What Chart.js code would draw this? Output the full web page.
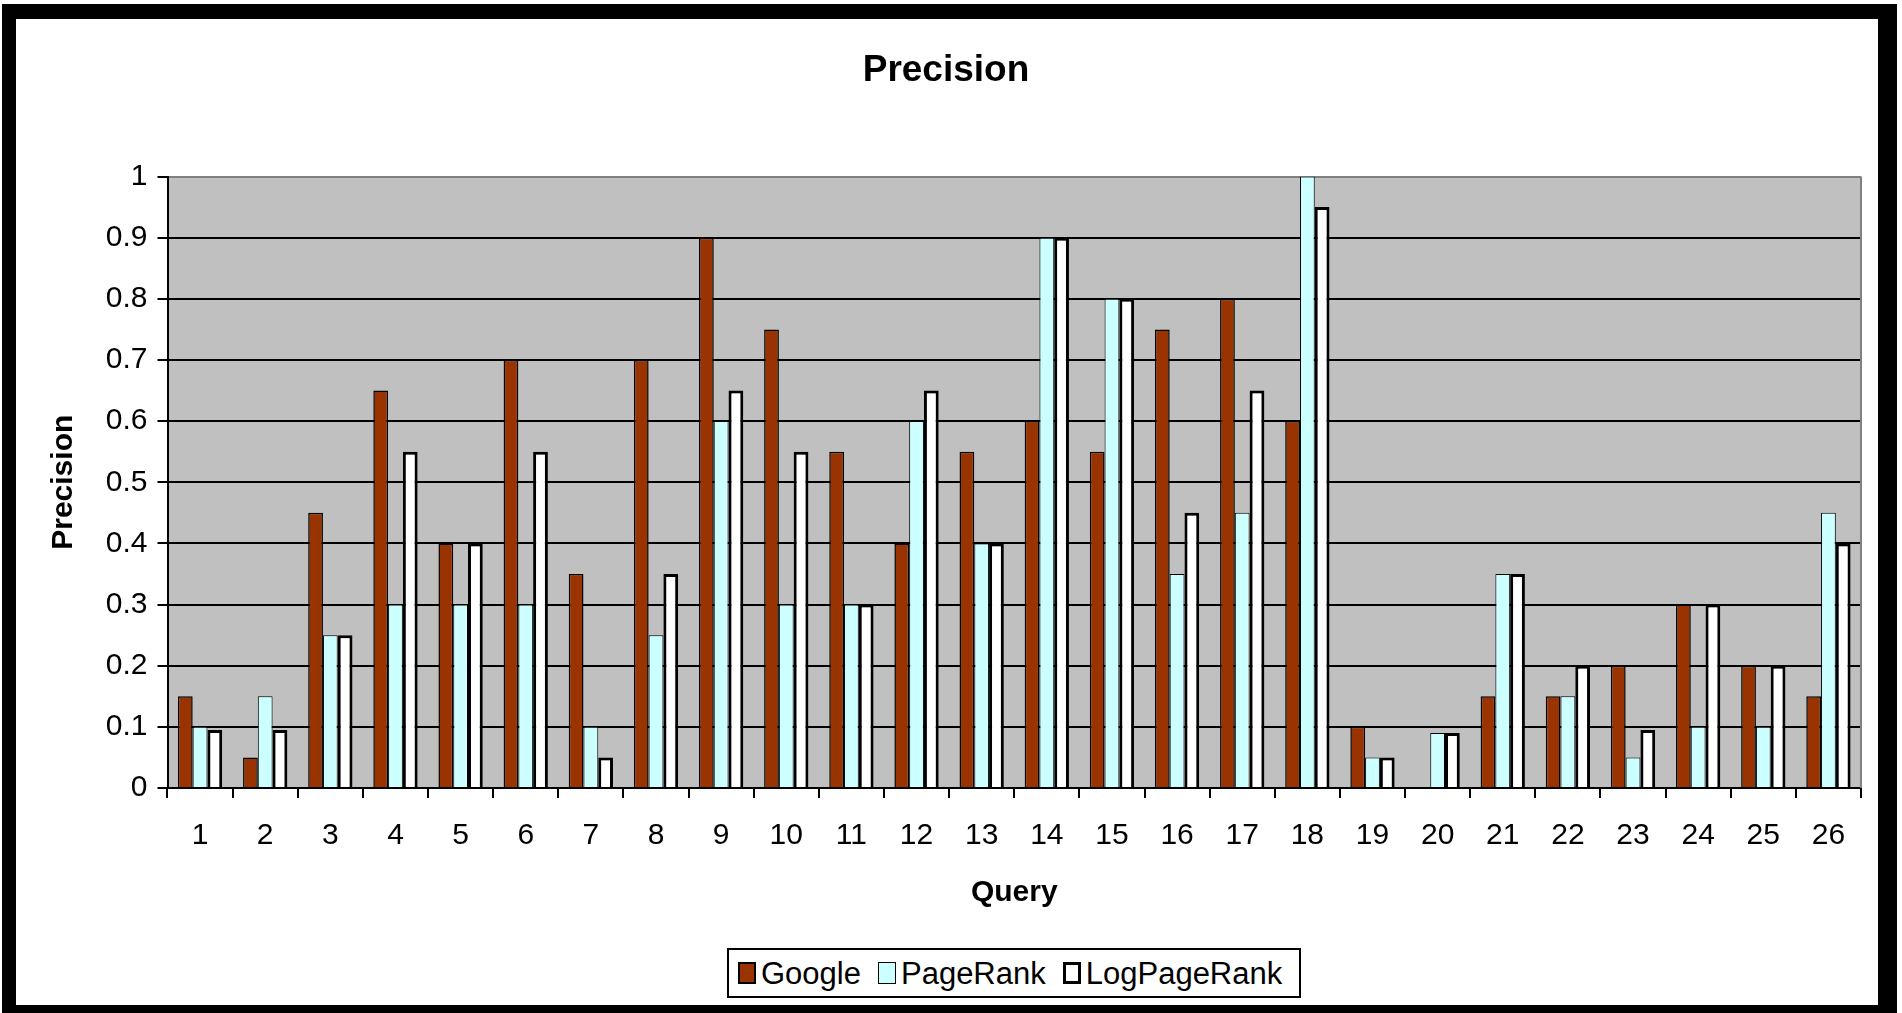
<!DOCTYPE html>
<html>
<head>
<meta charset="utf-8">
<script src="https://cdn.jsdelivr.net/npm/chart.js@4.4.1/dist/chart.umd.min.js"></script>
<style>
html, body { margin: 0; padding: 0; background: #ffffff; }
#wrap { position: relative; width: 1902px; height: 1013px; overflow: hidden; }
canvas { display: block; }
#legend {
  position: absolute; left: 727px; top: 948px; height: 50px;
  box-sizing: border-box; border: 2px solid #000; background: #fff;
  display: flex; align-items: center; padding: 0 17px 0 9px;
  font-family: 'Liberation Sans', Arial, sans-serif; font-size: 31px; color: #000;
  white-space: nowrap; line-height: 1;
}
#legend .item { display: flex; align-items: center; margin-right: 17px; }
#legend .item:last-child { margin-right: 0; }
#legend .mk { width: 18px; height: 22px; box-sizing: border-box; margin-right: 5px; border-style: solid; border-color: #000; }
</style>
</head>
<body>
<div id="wrap"><canvas id="c" width="1902" height="1013"></canvas><div id="legend"></div></div>
<script>
// ---- data ----
const categories = ['1','2','3','4','5','6','7','8','9','10','11','12','13','14','15','16','17','18','19','20','21','22','23','24','25','26'];
const google      = [0.15,0.05,0.45,0.65,0.40,0.70,0.35,0.70,0.90,0.75,0.55,0.40,0.55,0.60,0.55,0.75,0.80,0.60,0.10,0.00,0.15,0.15,0.20,0.30,0.20,0.15];
const pageRank    = [0.10,0.15,0.25,0.30,0.30,0.30,0.10,0.25,0.60,0.30,0.30,0.60,0.40,0.90,0.80,0.35,0.45,1.00,0.05,0.09,0.35,0.15,0.05,0.10,0.10,0.45];
const logPageRank = [0.095,0.095,0.25,0.55,0.40,0.55,0.05,0.35,0.65,0.55,0.30,0.65,0.40,0.90,0.80,0.45,0.65,0.95,0.05,0.09,0.35,0.20,0.095,0.30,0.20,0.40];
const yTickLabels = ['0','0.1','0.2','0.3','0.4','0.5','0.6','0.7','0.8','0.9','1'];
const seriesNames = ['Google','PageRank','LogPageRank'];
const chartTitle = 'Precision';
const xAxisTitle = 'Query';
const yAxisTitle = 'Precision';

const FONT = "'Liberation Sans', Arial, sans-serif";
Chart.defaults.font.family = FONT;
Chart.defaults.color = '#000000';

const decorPlugin = {
  id: 'decor',
  beforeDraw(chart) {
    const { ctx, chartArea: a } = chart;
    ctx.save();
    ctx.fillStyle = '#ffffff';
    ctx.fillRect(0, 0, chart.width, chart.height);
    ctx.fillStyle = '#C0C0C0';
    ctx.fillRect(a.left, a.top, a.right - a.left, a.bottom - a.top);
    ctx.restore();
  },
  afterDraw(chart) {
    const { ctx, chartArea: a } = chart;
    ctx.save();
    ctx.strokeStyle = '#808080';
    ctx.lineWidth = 2;
    ctx.beginPath();
    ctx.moveTo(a.right, a.top);
    ctx.lineTo(a.right, a.bottom);
    ctx.stroke();
    // outer black frame
    ctx.fillStyle = '#000000';
    ctx.fillRect(2, 4, 14, 1009);
    ctx.fillRect(2, 4, 1895, 15);
    ctx.fillRect(1878, 4, 19, 1009);
    ctx.fillRect(2, 1005, 1895, 8);
    ctx.restore();
  }
};

// HTML legend built from the chart's datasets
const htmlLegendPlugin = {
  id: 'htmlLegend',
  afterUpdate(chart) {
    const box = document.getElementById('legend');
    box.innerHTML = '';
    chart.data.datasets.forEach(ds => {
      const item = document.createElement('div');
      item.className = 'item';
      const mk = document.createElement('span');
      mk.className = 'mk';
      mk.style.background = ds.backgroundColor;
      mk.style.borderWidth = Math.max(1, Math.round(ds.borderWidth)) + 'px';
      const tx = document.createElement('span');
      tx.textContent = ds.label;
      item.appendChild(mk);
      item.appendChild(tx);
      box.appendChild(item);
    });
  }
};

new Chart(document.getElementById('c'), {
  type: 'bar',
  data: {
    labels: categories,
    datasets: [
      { label: seriesNames[0], data: google, backgroundColor: '#993300', borderColor: '#000000', borderWidth: 1.5 },
      { label: seriesNames[1], data: pageRank, backgroundColor: '#CCFFFF', borderColor: '#000000', borderWidth: 1 },
      { label: seriesNames[2], data: logPageRank, backgroundColor: '#FFFFFF', borderColor: '#000000', borderWidth: 3 }
    ]
  },
  options: {
    responsive: false,
    animation: false,
    devicePixelRatio: 1,
    datasets: { bar: { categoryPercentage: 0.68, barPercentage: 1.0 } },
    layout: { padding: { left: 31, right: 41, top: 0, bottom: 74 } },
    plugins: {
      tooltip: { enabled: false },
      legend: { display: false },
      title: {
        display: true,
        text: chartTitle,
        color: '#000000',
        font: { family: FONT, size: 37, weight: 'bold' },
        padding: { top: 48.8, bottom: 83.3 }
      }
    },
    scales: {
      x: {
        offset: true,
        afterFit(scale) { scale.height = 151; },
        grid: { display: true, drawOnChartArea: false, drawTicks: true, tickLength: 10, color: '#000000', lineWidth: 2, offset: true },
        border: { display: true, color: '#000000', width: 2 },
        ticks: { color: '#000000', font: { family: FONT, size: 30 }, padding: 20, autoSkip: false, maxRotation: 0, minRotation: 0 },
        title: { display: true, text: xAxisTitle, color: '#000000', font: { family: FONT, size: 30, weight: 'bold' }, padding: { top: 0, bottom: 28.5 } }
      },
      y: {
        min: 0,
        max: 1,
        afterFit(scale) { scale.width = 136.5; },
        grid: {
          display: true,
          drawOnChartArea: true,
          drawTicks: true,
          tickLength: 10,
          lineWidth: 2,
          color: (ctx) => (ctx.tick && Math.abs(ctx.tick.value - 1) < 1e-9) ? '#808080' : '#000000',
          tickColor: '#000000'
        },
        border: { display: true, color: '#000000', width: 2 },
        ticks: {
          stepSize: 0.1,
          color: '#000000',
          font: { family: FONT, size: 30 },
          padding: 10,
          callback: (v) => yTickLabels[Math.round(v * 10)]
        },
        title: { display: true, text: yAxisTitle, color: '#000000', font: { family: FONT, size: 30, weight: 'bold' }, padding: { top: 14.5, bottom: 0 } }
      }
    }
  },
  plugins: [decorPlugin, htmlLegendPlugin]
});
</script>
</body>
</html>
